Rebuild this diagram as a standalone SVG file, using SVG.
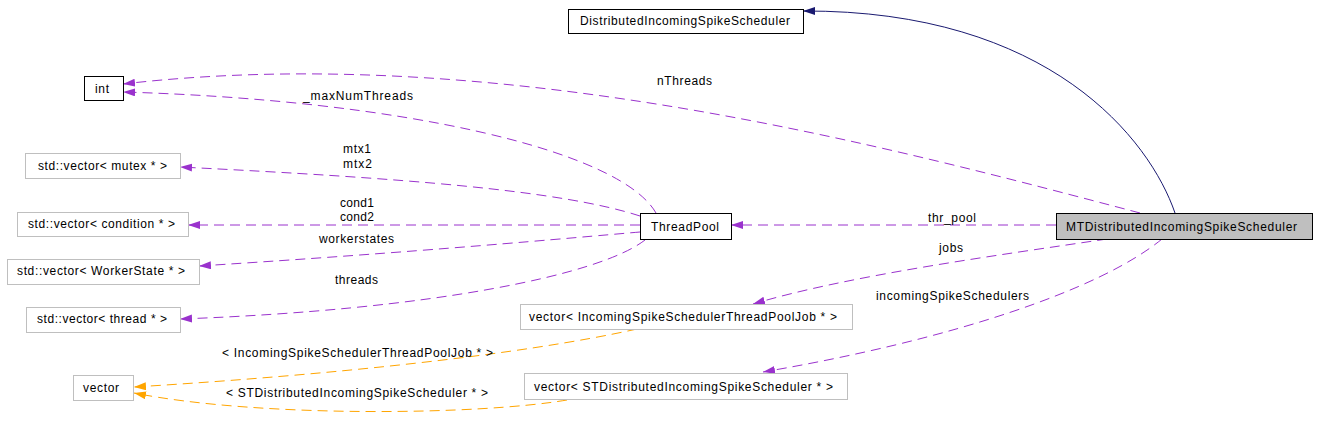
<svg xmlns="http://www.w3.org/2000/svg" width="1317" height="437" viewBox="0 0 1317 437">
<style>
text{font-family:"Liberation Sans",Arial,sans-serif;font-size:12px;fill:#000}
.nb{fill:#fff;stroke:#000;stroke-width:1}
.ng{fill:#fff;stroke:#bfbfbf;stroke-width:1}
.nm{fill:#bfbfbf;stroke:#000;stroke-width:1}
.ep{fill:none;stroke:#9a32cd;stroke-width:1;stroke-dasharray:10,6;marker-end:url(#ap)}
.eo{fill:none;stroke:#ffa500;stroke-width:1;stroke-dasharray:10,6;marker-end:url(#ao)}
.en{fill:none;stroke:#191970;stroke-width:1;marker-end:url(#an)}
</style>
<defs>
<marker id="ap" markerUnits="userSpaceOnUse" markerWidth="13" markerHeight="9" refX="12" refY="4" orient="auto"><path d="M0,0L12,4L0,8z" fill="#9a32cd"/></marker>
<marker id="ao" markerUnits="userSpaceOnUse" markerWidth="13" markerHeight="9" refX="12" refY="4" orient="auto"><path d="M0,0L12,4L0,8z" fill="#ffa500"/></marker>
<marker id="an" markerUnits="userSpaceOnUse" markerWidth="13" markerHeight="9" refX="12" refY="4" orient="auto"><path d="M0,0L12,4L0,8z" fill="#191970"/></marker>
</defs>
<rect width="1317" height="437" fill="#fff"/>
<g id="connectors">
<path class="en" d="M1175,213 C1150,140 1050,10 803,11"/>
<path class="ep" d="M1140,213 C900,150 500,40 123,84"/>
<path class="ep" d="M656,213 C620,150 400,100 123,92"/>
<path class="ep" d="M640,216 C560,190 400,178 180,167"/>
<path class="ep" d="M640,225 L188,225"/>
<path class="ep" d="M640,232 C570,238 420,252 199,266"/>
<path class="ep" d="M645,240 C600,275 430,310 180,319"/>
<path class="ep" d="M1056,225 L731,225"/>
<path class="ep" d="M1107,239 C1000,255 850,275 753,304"/>
<path class="ep" d="M1162,239 C1100,290 950,340 763,372"/>
<path class="eo" d="M637,329 C520,355 330,375 134,387"/>
<path class="eo" d="M567,400 C480,415 260,418 134,393"/>
<text x="657" y="85" textLength="55" lengthAdjust="spacing">nThreads</text>
<text x="303" y="100" textLength="110" lengthAdjust="spacing">_maxNumThreads</text>
<text x="343" y="153" textLength="28" lengthAdjust="spacing">mtx1</text>
<text x="343" y="168" textLength="29" lengthAdjust="spacing">mtx2</text>
<text x="340" y="207" textLength="34" lengthAdjust="spacing">cond1</text>
<text x="340" y="221" textLength="34" lengthAdjust="spacing">cond2</text>
<text x="319" y="243" textLength="75" lengthAdjust="spacing">workerstates</text>
<text x="335" y="284" textLength="43" lengthAdjust="spacing">threads</text>
<text x="928" y="222" textLength="48" lengthAdjust="spacing">thr_pool</text>
<text x="939" y="252" textLength="24" lengthAdjust="spacing">jobs</text>
<text x="876" y="300" textLength="153" lengthAdjust="spacing">incomingSpikeSchedulers</text>
<text x="222" y="357" textLength="271" lengthAdjust="spacing">&lt; IncomingSpikeSchedulerThreadPoolJob * &gt;</text>
<text x="226" y="397" textLength="262" lengthAdjust="spacing">&lt; STDistributedIncomingSpikeScheduler * &gt;</text>
</g>
<g id="DistributedIncomingSpikeScheduler"><rect class="nb" x="568.5" y="9.5" width="235" height="24"/><text x="580" y="25" textLength="210" lengthAdjust="spacing">DistributedIncomingSpikeScheduler</text></g>
<g id="int"><rect class="nb" x="84.5" y="76.5" width="39" height="24"/><text x="95" y="93" textLength="14" lengthAdjust="spacing">int</text></g>
<g id="vector_mutex"><rect class="ng" x="25.5" y="153.5" width="155" height="25"/><text x="38" y="170" textLength="129" lengthAdjust="spacing">std::vector&lt; mutex * &gt;</text></g>
<g id="vector_condition"><rect class="ng" x="17.5" y="212.5" width="171" height="24"/><text x="28" y="228" textLength="147" lengthAdjust="spacing">std::vector&lt; condition * &gt;</text></g>
<g id="vector_workerstate"><rect class="ng" x="7.5" y="259.5" width="192" height="25"/><text x="17" y="275" textLength="168" lengthAdjust="spacing">std::vector&lt; WorkerState * &gt;</text></g>
<g id="vector_thread"><rect class="ng" x="26.5" y="307.5" width="154" height="25"/><text x="37" y="323" textLength="130" lengthAdjust="spacing">std::vector&lt; thread * &gt;</text></g>
<g id="vector"><rect class="ng" x="73.5" y="375.5" width="60" height="25"/><text x="83" y="392" textLength="36" lengthAdjust="spacing">vector</text></g>
<g id="vector_jobs"><rect class="ng" x="520.5" y="304.5" width="332" height="25"/><text x="529" y="321" textLength="308" lengthAdjust="spacing">vector&lt; IncomingSpikeSchedulerThreadPoolJob * &gt;</text></g>
<g id="vector_std"><rect class="ng" x="524.5" y="373.5" width="323" height="26"/><text x="534" y="391" textLength="299" lengthAdjust="spacing">vector&lt; STDistributedIncomingSpikeScheduler * &gt;</text></g>
<g id="ThreadPool"><rect class="nb" x="640.5" y="213.5" width="91" height="26"/><text x="651" y="231" textLength="68" lengthAdjust="spacing">ThreadPool</text></g>
<g id="MTDistributedIncomingSpikeScheduler"><rect class="nm" x="1056.5" y="213.5" width="256" height="26"/><text x="1066" y="231" textLength="231" lengthAdjust="spacing">MTDistributedIncomingSpikeScheduler</text></g>
</svg>
